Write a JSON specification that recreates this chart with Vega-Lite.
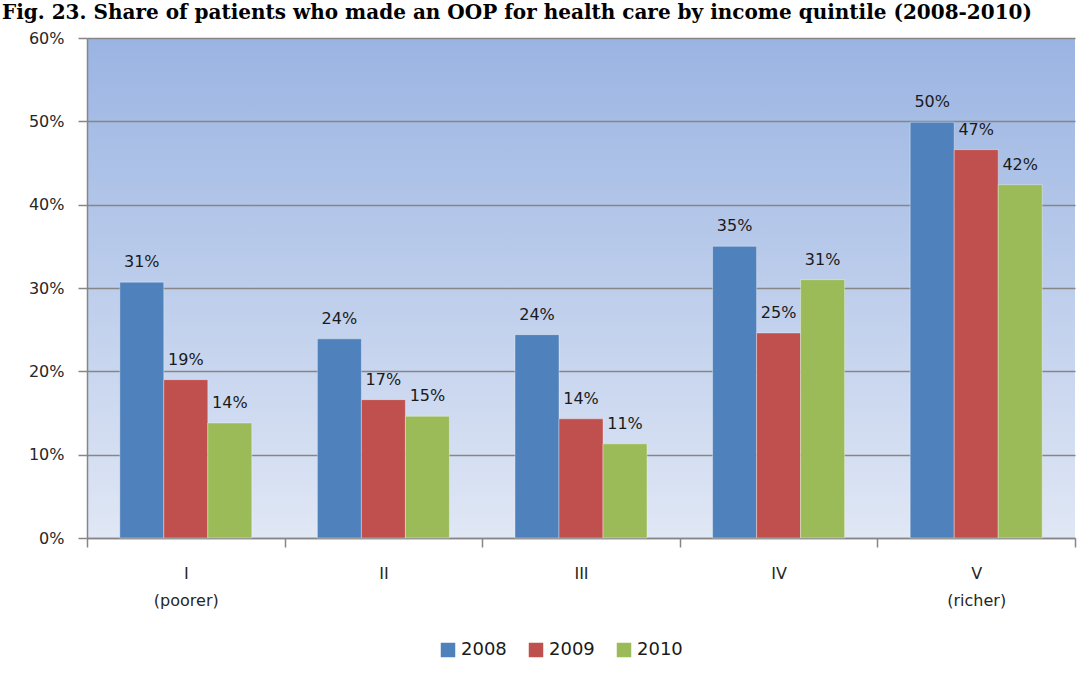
{
  "$schema": "https://vega.github.io/schema/vega-lite/v6.json",
  "autosize": "none",
  "width": 988,
  "height": 500,
  "padding": {"left": 87, "top": 38, "right": 15, "bottom": 139},
  "title": {
    "text": "Fig. 23. Share of patients who made an OOP for health care by income quintile (2008-2010)",
    "font": "DejaVu Serif",
    "fontWeight": "bold",
    "fontSize": 20,
    "color": "#000000",
    "anchor": "start",
    "frame": "group",
    "dx": -85,
    "offset": 7
  },
  "data": {
    "values": [
      {"quintile": "I", "year": "2008", "share": 0.307},
      {"quintile": "I", "year": "2009", "share": 0.190},
      {"quintile": "I", "year": "2010", "share": 0.138},
      {"quintile": "II", "year": "2008", "share": 0.239},
      {"quintile": "II", "year": "2009", "share": 0.166},
      {"quintile": "II", "year": "2010", "share": 0.146},
      {"quintile": "III", "year": "2008", "share": 0.244},
      {"quintile": "III", "year": "2009", "share": 0.143},
      {"quintile": "III", "year": "2010", "share": 0.113},
      {"quintile": "IV", "year": "2008", "share": 0.350},
      {"quintile": "IV", "year": "2009", "share": 0.246},
      {"quintile": "IV", "year": "2010", "share": 0.310},
      {"quintile": "V", "year": "2008", "share": 0.499},
      {"quintile": "V", "year": "2009", "share": 0.466},
      {"quintile": "V", "year": "2010", "share": 0.424}
    ]
  },
  "encoding": {
    "x": {
      "field": "quintile",
      "type": "nominal",
      "sort": ["I", "II", "III", "IV", "V"],
      "scale": {"paddingInner": 0, "paddingOuter": 0},
      "title": null,
      "axis": {
        "labelAngle": 0,
        "tickBand": "extent",
        "labelExpr": "datum.value == 'I' ? ['I', '(poorer)'] : datum.value == 'V' ? ['V', '(richer)'] : datum.value",
        "labelPadding": 18,
        "labelLineHeight": 27
      }
    },
    "xOffset": {"field": "year", "type": "nominal", "scale": {"paddingInner": 0, "paddingOuter": 0.745}},
    "y": {
      "field": "share",
      "type": "quantitative",
      "scale": {"domain": [0, 0.6]},
      "title": null,
      "axis": {
        "format": ".0%",
        "values": [0, 0.1, 0.2, 0.3, 0.4, 0.5, 0.6],
        "grid": true,
        "labelPadding": 14
      }
    }
  },
  "layer": [
    {
      "mark": {"type": "bar", "strokeWidth": 1, "strokeOpacity": 0.35, "stroke": "#ffffff"},
      "encoding": {
        "color": {
          "field": "year",
          "type": "nominal",
          "scale": {"domain": ["2008", "2009", "2010"], "range": ["#4F81BD", "#C0504D", "#9BBB59"]},
          "title": null,
          "legend": {
            "orient": "none",
            "direction": "horizontal",
            "legendX": 352,
            "legendY": 603,
            "symbolType": "square",
            "symbolSize": 210,
            "symbolStrokeWidth": 0,
            "symbolOpacity": 1,
            "labelFontSize": 18,
            "labelOffset": 4,
            "columnPadding": 20
          }
        }
      }
    },
    {
      "mark": {"type": "text", "baseline": "alphabetic", "dy": -15, "fontSize": 16, "font": "DejaVu Sans", "color": "#1a1a1a"},
      "encoding": {
        "text": {"field": "share", "type": "quantitative", "format": ".0%"}
      }
    }
  ],
  "config": {
    "font": "DejaVu Sans",
    "view": {
      "stroke": null,
      "fill": {
        "gradient": "linear",
        "x1": 0, "y1": 0, "x2": 0, "y2": 1,
        "stops": [
          {"offset": 0, "color": "#9AB4E2"},
          {"offset": 1, "color": "#E0E7F5"}
        ]
      }
    },
    "axis": {
      "domainColor": "#868686",
      "domainWidth": 1.5,
      "tickColor": "#868686",
      "tickWidth": 1.5,
      "tickSize": 9,
      "gridColor": "#868686",
      "gridWidth": 1.5,
      "labelFont": "DejaVu Sans",
      "labelFontSize": 16,
      "labelColor": "#262626"
    },
    "legend": {
      "labelFont": "DejaVu Sans",
      "labelColor": "#1a1a1a"
    }
  }
}
